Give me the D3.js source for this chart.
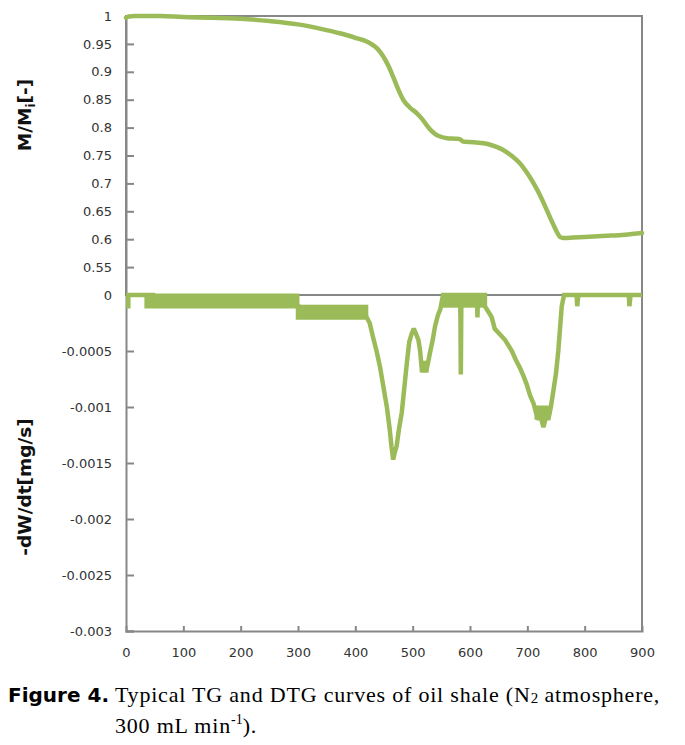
<!DOCTYPE html>
<html>
<head>
<meta charset="utf-8">
<script src="https://cdn.jsdelivr.net/npm/d3@7/dist/d3.min.js"></script>
<style>
  html, body { margin: 0; padding: 0; background: #fff; }
  svg { display: block; }
</style>
</head>
<body>
<svg id="chart" width="685" height="745"></svg>
<script>
// ---------- data ----------
const xTickValues = [0, 100, 200, 300, 400, 500, 600, 700, 800, 900];
const xTickLabels = ["0", "100", "200", "300", "400", "500", "600", "700", "800", "900"];

const tgTickValues = [1, 0.95, 0.9, 0.85, 0.8, 0.75, 0.7, 0.65, 0.6, 0.55];
const tgTickLabels = ["1", "0.95", "0.9", "0.85", "0.8", "0.75", "0.7", "0.65", "0.6", "0.55"];

const dtgTickValues = [0, -0.0005, -0.001, -0.0015, -0.002, -0.0025, -0.003];
const dtgTickLabels = ["0", "-0.0005", "-0.001", "-0.0015", "-0.002", "-0.0025", "-0.003"];

// TG curve: temperature, M/Mi
const tgTemp = [0, 5, 15, 60, 100, 150, 200, 250, 300, 340, 373, 400, 426, 438, 449, 458, 466, 475, 484, 495, 507, 516, 524, 532, 540, 548, 560, 575, 583, 588, 600, 615, 629, 645, 658, 672, 687, 700, 711, 723, 734, 745, 752, 757, 765, 780, 800, 838, 870, 900];
const tgMass = [0.997, 0.999, 1.0, 1.0, 0.998, 0.997, 0.995, 0.991, 0.985, 0.977, 0.969, 0.961, 0.951, 0.942, 0.927, 0.91, 0.891, 0.868, 0.849, 0.836, 0.826, 0.816, 0.805, 0.795, 0.788, 0.784, 0.781, 0.780, 0.779, 0.775, 0.774, 0.773, 0.771, 0.766, 0.760, 0.750, 0.736, 0.718, 0.700, 0.677, 0.652, 0.627, 0.612, 0.604, 0.602, 0.603, 0.604, 0.606, 0.608, 0.611];

// DTG curve: temperature, -dW/dt
const dtgTemp = [0, 4, 4, 36, 36, 42, 42, 47, 47, 300, 300, 420, 425, 431, 437, 443, 449, 455, 460, 463, 466, 469, 472, 476, 481, 486, 490, 494, 498, 502, 506, 510, 513, 516, 524, 527, 530, 535, 539, 544, 548, 553, 583, 584, 585, 612, 613, 614, 626, 626, 632, 638, 643, 652, 661, 667, 673, 680, 687, 693, 699, 705, 711, 715, 719, 724, 728, 732, 737, 741, 745, 750, 754, 757, 760, 764, 786, 787, 789, 877, 878, 880, 900];
const dtgRate = [-0.0001, -0.0001, 0, 0, -0.0001, -0.0001, 0, 0, -0.0001, -0.0001, -0.0002, -0.0002, -0.00025, -0.00038, -0.0005, -0.00064, -0.00082, -0.001, -0.0012, -0.00135, -0.00147, -0.0014, -0.00135, -0.0012, -0.00105, -0.0008, -0.0006, -0.00042, -0.00035, -0.0003, -0.00035, -0.0004, -0.0005, -0.00067, -0.00067, -0.0006, -0.00052, -0.0004, -0.00028, -0.00018, -0.00013, 0, 0, -0.00071, 0, 0, -0.0002, 0, 0, -0.0001, -0.00015, -0.0002, -0.0003, -0.00035, -0.0004, -0.00045, -0.0005, -0.00058, -0.00065, -0.00072, -0.0008, -0.0009, -0.00097, -0.00105, -0.0011, -0.0011, -0.00118, -0.0011, -0.0011, -0.001, -0.00087, -0.0007, -0.0005, -0.0003, -0.0001, 0, 0, -0.0001, 0, 0, -0.0001, 0, 0];

// DTG regions where the signal flickers between two levels
const flickerStart = [47, 300, 516, 553, 715];
const flickerEnd   = [300, 420, 525, 626, 735];
const flickerHigh  = [0, -0.0001, -0.0006, 0, -0.001];
const flickerLow   = [-0.0001, -0.0002, -0.00068, -0.0001, -0.0011];

// ---------- drawing ----------
const svg = d3.select("#chart");
const green = "#9bbb59";
const gray = "#878787";
const labelColor = "#333";

const x = d3.scaleLinear().domain([0, 900]).range([126, 642]);
const yTop = d3.scaleLinear().domain([0.5, 1]).range([295, 16]);
const yBot = d3.scaleLinear().domain([-0.003, 0]).range([631, 295]);

// frames
const frame = svg.append("g").attr("fill", "none").attr("stroke", gray).attr("stroke-width", 2);
frame.append("rect").attr("x", x(0)).attr("y", yTop(1)).attr("width", x(900) - x(0)).attr("height", yTop(0.5) - yTop(1));
frame.append("line").attr("x1", x(900)).attr("x2", x(900)).attr("y1", yBot(0)).attr("y2", yBot(-0.003));

function styleAxis(g) {
  g.select(".domain").attr("stroke", gray).attr("stroke-width", 2);
  g.selectAll(".tick line").attr("stroke", gray).attr("stroke-width", 2);
  g.selectAll(".tick text").attr("fill", labelColor)
    .attr("font-family", "DejaVu Sans, Verdana, sans-serif").attr("font-size", 13);
}

// top y axis
const axTop = svg.append("g").attr("transform", `translate(${x(0)},0)`)
  .call(d3.axisLeft(yTop).tickValues(tgTickValues)
    .tickFormat((d, i) => tgTickLabels[i]).tickSize(-8).tickPadding(14));
styleAxis(axTop);

// bottom y axis
const axBot = svg.append("g").attr("transform", `translate(${x(0)},0)`)
  .call(d3.axisLeft(yBot).tickValues(dtgTickValues)
    .tickFormat((d, i) => dtgTickLabels[i]).tickSize(-8).tickPadding(14));
styleAxis(axBot);
axBot.selectAll(".tick").filter(d => d === 0).select("line").attr("stroke", "#6f6f6f").attr("stroke-width", 3);

// x axis
const axX = svg.append("g").attr("transform", `translate(0,${yBot(-0.003)})`)
  .call(d3.axisBottom(x).tickValues(xTickValues)
    .tickFormat((d, i) => xTickLabels[i]).tickSize(-5).tickPadding(17));
styleAxis(axX);
axX.selectAll(".tick").filter(d => d === 0 || d === 900).select("line").remove();

// DTG flicker bands
const bands = flickerStart.map((s, i) => ({ s, e: flickerEnd[i], hi: flickerHigh[i], lo: flickerLow[i] }));
svg.append("g").selectAll("rect").data(bands).join("rect")
  .attr("x", d => x(d.s)).attr("width", d => x(d.e) - x(d.s))
  .attr("y", d => yBot(d.hi)).attr("height", d => yBot(d.lo) - yBot(d.hi))
  .attr("fill", green).attr("stroke", green).attr("stroke-width", 3);

// DTG line
const dtgData = dtgTemp.map((t, i) => [t, dtgRate[i]]);
svg.append("path").datum(dtgData)
  .attr("d", d3.line().x(d => x(d[0])).y(d => yBot(d[1])))
  .attr("fill", "none").attr("stroke", green).attr("stroke-width", 4.5)
  .attr("stroke-linejoin", "miter").attr("stroke-miterlimit", 2);

// TG line
const tgData = tgTemp.map((t, i) => [t, tgMass[i]]);
svg.append("path").datum(tgData)
  .attr("d", d3.line().x(d => x(d[0])).y(d => yTop(d[1])).curve(d3.curveMonotoneX))
  .attr("fill", "none").attr("stroke", green).attr("stroke-width", 4.5)
  .attr("stroke-linejoin", "round").attr("stroke-linecap", "round");

// axis titles
const t1 = svg.append("text")
  .attr("transform", "translate(31,115) rotate(-90)")
  .attr("text-anchor", "middle")
  .attr("font-family", "DejaVu Sans, Verdana, sans-serif").attr("font-weight", "bold")
  .attr("font-size", 18.5).attr("fill", "#111");
t1.append("tspan").text("M/M");
t1.append("tspan").text("i").attr("font-size", 12).attr("dy", 4);
t1.append("tspan").text("[-]").attr("dy", -4);

svg.append("text")
  .attr("transform", "translate(31,487) rotate(-90)")
  .attr("text-anchor", "middle")
  .attr("font-family", "DejaVu Sans, Verdana, sans-serif").attr("font-weight", "bold")
  .attr("font-size", 18.5).attr("fill", "#111")
  .text("-dW/dt[mg/s]");

// caption
const cap = svg.append("text").attr("x", 8).attr("y", 702).attr("fill", "#000");
cap.append("tspan").text("Figure 4.")
  .attr("font-family", "DejaVu Sans, Verdana, sans-serif").attr("font-weight", "bold").attr("font-size", 20);
const capSerif = "Liberation Serif, Times New Roman, serif";
cap.append("tspan").text(" Typical TG and DTG curves of oil shale (N")
  .attr("font-family", capSerif).attr("font-size", 22).attr("letter-spacing", 0.8);
cap.append("tspan").text("2").attr("font-family", capSerif).attr("font-size", 15).attr("dy", 1);
cap.append("tspan").text(" atmosphere,").attr("font-family", capSerif).attr("font-size", 22)
  .attr("letter-spacing", 0.8).attr("dy", -1);

const cap2 = svg.append("text").attr("x", 115).attr("y", 733).attr("fill", "#000")
  .attr("font-family", capSerif).attr("font-size", 22).attr("letter-spacing", 0.8);
cap2.append("tspan").text("300 mL min");
cap2.append("tspan").text("-1").attr("font-size", 14).attr("dy", -9).attr("letter-spacing", 0);
cap2.append("tspan").text(").").attr("dy", 9);
</script>
</body>
</html>
